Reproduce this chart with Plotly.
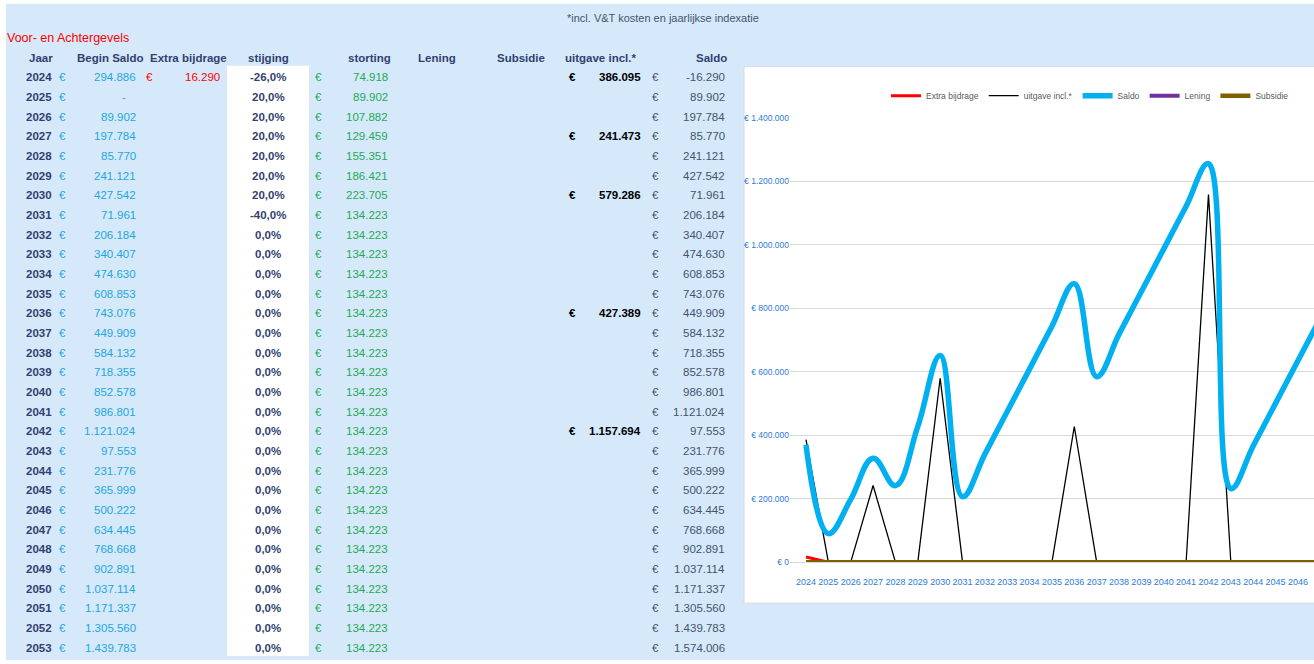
import plotly.graph_objects as go

# ---------------- data ----------------
years = [2024, 2025, 2026, 2027, 2028, 2029, 2030, 2031, 2032, 2033,
         2034, 2035, 2036, 2037, 2038, 2039, 2040, 2041, 2042, 2043,
         2044, 2045, 2046, 2047, 2048, 2049, 2050, 2051, 2052, 2053]
begin_saldo = [294886, 0, 89902, 197784, 85770, 241121, 427542, 71961, 206184, 340407,
               474630, 608853, 743076, 449909, 584132, 718355, 852578, 986801, 1121024, 97553,
               231776, 365999, 500222, 634445, 768668, 902891, 1037114, 1171337, 1305560, 1439783]
extra_bijdrage = [16290, 0, 0, 0, 0, 0, 0, 0, 0, 0, 0, 0, 0, 0, 0,
                  0, 0, 0, 0, 0, 0, 0, 0, 0, 0, 0, 0, 0, 0, 0]
stijging = [-26.0, 20.0, 20.0, 20.0, 20.0, 20.0, 20.0, -40.0, 0.0, 0.0,
            0.0, 0.0, 0.0, 0.0, 0.0, 0.0, 0.0, 0.0, 0.0, 0.0,
            0.0, 0.0, 0.0, 0.0, 0.0, 0.0, 0.0, 0.0, 0.0, 0.0]
storting = [74918, 89902, 107882, 129459, 155351, 186421, 223705, 134223, 134223, 134223,
            134223, 134223, 134223, 134223, 134223, 134223, 134223, 134223, 134223, 134223,
            134223, 134223, 134223, 134223, 134223, 134223, 134223, 134223, 134223, 134223]
lening = [0, 0, 0, 0, 0, 0, 0, 0, 0, 0, 0, 0, 0, 0, 0,
          0, 0, 0, 0, 0, 0, 0, 0, 0, 0, 0, 0, 0, 0, 0]
subsidie = [0, 0, 0, 0, 0, 0, 0, 0, 0, 0, 0, 0, 0, 0, 0,
            0, 0, 0, 0, 0, 0, 0, 0, 0, 0, 0, 0, 0, 0, 0]
uitgave = [386095, 0, 0, 241473, 0, 0, 579286, 0, 0, 0,
           0, 0, 427389, 0, 0, 0, 0, 0, 1157694, 0,
           0, 0, 0, 0, 0, 0, 0, 0, 0, 0]
saldo = [-16290, 89902, 197784, 85770, 241121, 427542, 71961, 206184, 340407, 474630,
         608853, 743076, 449909, 584132, 718355, 852578, 986801, 1121024, 97553, 231776,
         365999, 500222, 634445, 768668, 902891, 1037114, 1171337, 1305560, 1439783, 1574006]
# Saldo series as plotted in the chart
chart_saldo = [369804, 89902, 197784, 327243, 241121, 427542, 651247, 206184, 340407, 474630,
               608853, 743076, 877299, 584132, 718355, 852578, 986801, 1121024, 1255247, 231776,
               365999, 500222, 634445, 768668, 902891, 1037114, 1171337, 1305560, 1439783, 1574006]

y_ticks = [0, 200000, 400000, 600000, 800000, 1000000, 1200000, 1400000]
headers = ["Jaar", "Begin Saldo", "Extra bijdrage", "stijging", "storting",
           "Lening", "Subsidie", "uitgave incl.*", "Saldo"]
title_text = "Voor- en Achtergevels"
note_text = "*incl. V&T kosten en jaarlijkse indexatie"

# ---------------- style ----------------
W, H = 1314, 664
FONT = "Liberation Sans, Arial, sans-serif"
BG = "#d5e9fb"
NAVY = "#333f70"
CYAN = "#1fa6de"
RED = "#ff0000"
GREEN = "#1faa55"
SLATE = "#44546a"
TICK = "#2f7ad6"
FS = 11.5
# vertical correction for the page capture
Y_OFF, Y_SC = 4.2, 0.986


def px(x):
    return x / W


def py(y):
    return 1 - ((y - Y_OFF) / Y_SC) / H


def nl(v):
    return f"{v:,}".replace(",", ".")


def pct(v):
    return f"{v:.1f}%".replace(".", ",")


ann = []


def txt(x, y, s, color, size=FS, bold=False, anchor="right"):
    ann.append(dict(x=px(x), y=py(y), xref="paper", yref="paper",
                    text=f"<b>{s}</b>" if bold else s, showarrow=False,
                    xanchor=anchor, yanchor="middle", borderpad=0,
                    font=dict(family=FONT, size=size, color=color)))


# title + note
txt(6, 37, title_text, RED, size=12.5, anchor="left")
txt(566, 17, note_text, SLATE, size=11, anchor="left")

# headers
HY = 57
hpos = [(41, "center"), (110, "center"), (188, "center"), (268, "center"), (392, "right"),
        (437, "center"), (521, "center"), (600, "center"), (728, "right")]
for (hx, anc), h in zip(hpos, headers):
    txt(hx, HY, h, NAVY, size=11.5, bold=True, anchor=anc)

# rows
for i, yr in enumerate(years):
    ry = 76.7 + i * 19.69
    txt(53, ry, str(yr), NAVY, bold=True)
    txt(62, ry, "€", CYAN, anchor="center")
    if begin_saldo[i] == 0:
        txt(124, ry, "-", CYAN, anchor="center")
    else:
        txt(137, ry, nl(begin_saldo[i]), CYAN)
    if extra_bijdrage[i]:
        txt(149, ry, "€", RED, anchor="center")
        txt(221, ry, nl(extra_bijdrage[i]), RED)
    txt(268, ry, pct(stijging[i]), NAVY, bold=True, anchor="center")
    txt(318, ry, "€", GREEN, anchor="center")
    txt(389, ry, nl(storting[i]), GREEN)
    if uitgave[i]:
        txt(572, ry, "€", "#000000", bold=True, anchor="center")
        txt(642, ry, nl(uitgave[i]), "#000000", bold=True)
    txt(655, ry, "€", SLATE, anchor="center")
    txt(726, ry, nl(saldo[i]), SLATE)

shapes = [
    dict(type="rect", xref="paper", yref="paper", x0=px(6), x1=1.01, y0=py(660), y1=py(3),
         fillcolor=BG, line=dict(width=0), layer="below"),
    dict(type="rect", xref="paper", yref="paper", x0=px(227), x1=px(309), y0=py(656), y1=py(65),
         fillcolor="white", line=dict(width=0), layer="below"),
    dict(type="rect", xref="paper", yref="paper", x0=px(744), x1=1.01, y0=py(603), y1=py(66),
         fillcolor="white", line=dict(color="#d9d9d9", width=1), layer="below"),
]

fig = go.Figure()
fig.add_trace(go.Scatter(x=years, y=extra_bijdrage, name="Extra bijdrage", mode="lines",
                         line=dict(color="#ff0000", width=3)))
fig.add_trace(go.Scatter(x=years, y=uitgave, name="uitgave incl.*", mode="lines",
                         line=dict(color="#000000", width=1.3)))
fig.add_trace(go.Scatter(x=years, y=chart_saldo, name="Saldo", mode="lines",
                         line=dict(color="#00b0f0", width=5.5, shape="spline", smoothing=1.15)))
fig.add_trace(go.Scatter(x=years, y=lening, name="Lening", mode="lines",
                         line=dict(color="#7030a0", width=4)))
fig.add_trace(go.Scatter(x=years, y=subsidie, name="Subsidie", mode="lines",
                         line=dict(color="#7f6000", width=4.5)))

fig.update_layout(
    width=W, height=H, autosize=False,
    margin=dict(l=0, r=0, t=0, b=0),
    paper_bgcolor="white", plot_bgcolor="white",
    separators=",.",
    showlegend=True,
    legend=dict(orientation="h", x=px(1090), xanchor="center", y=py(95), yanchor="middle",
                bgcolor="rgba(0,0,0,0)", font=dict(family=FONT, size=8.5, color="#595959"),
                itemwidth=30, tracegroupgap=0),
    xaxis=dict(domain=[px(790), 1], range=[2023.284, 2046.72], tickmode="array",
               tickvals=years, ticktext=[str(y) for y in years], tickangle=0,
               showgrid=False, zeroline=False, showline=True, linecolor="#d9d9d9",
               ticks="", tickfont=dict(family=FONT, size=9, color=TICK), ticklabelstandoff=11),
    yaxis=dict(domain=[py(562), py(117)], range=[0, 1400000], tickmode="array",
               tickvals=y_ticks, ticktext=["€ " + nl(v) if v else "€ 0" for v in y_ticks],
               showgrid=True, gridcolor="#d9d9d9", gridwidth=1, zeroline=False,
               showline=False, ticks="", tickfont=dict(family=FONT, size=8.5, color=TICK)),
    annotations=ann,
    shapes=shapes,
)

post = (
    "document.documentElement.style.margin='0';"
    "document.documentElement.style.overflow='hidden';"
    "document.body.style.margin='0';"
    "document.body.style.overflow='hidden';"
)

fig.write_html("out.html", config={"displayModeBar": False}, post_script=post)
